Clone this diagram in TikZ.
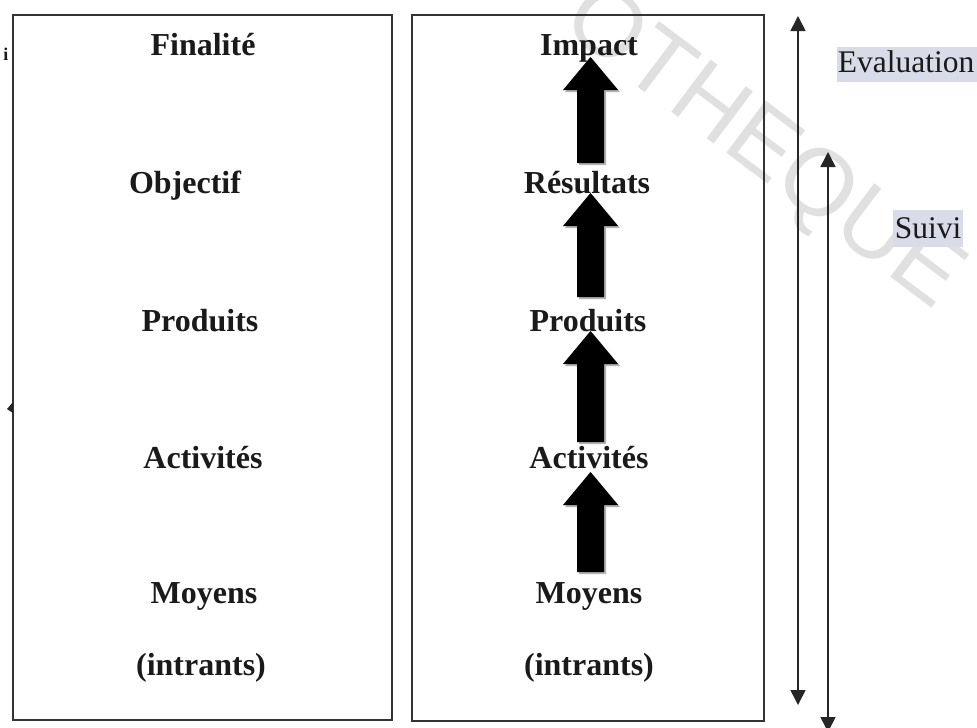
\documentclass[tikz,border=0pt]{standalone}
\usepackage{fontspec}
\setmainfont{Liberation Serif}
\newfontfamily\wmfont{Liberation Sans}
\usetikzlibrary{arrows.meta}
\definecolor{hl}{HTML}{D9DCE8}
\definecolor{ink}{HTML}{1A1A1A}
\newcommand{\blockarr}[3]{%
  \fill[black!30] (#1+2,#2+2) -- (#1+29.5,#2+35) -- (#1+15.5,#2+35) -- (#1+15.5,#3+2) -- (#1-11.5,#3+2) -- (#1-11.5,#2+35) -- (#1-25.5,#2+35) -- cycle;
  \fill[black] (#1,#2) -- (#1+27.5,#2+33) -- (#1+13.5,#2+33) -- (#1+13.5,#3) -- (#1-13.5,#3) -- (#1-13.5,#2+33) -- (#1-27.5,#2+33) -- cycle;
}
\begin{document}
\begin{tikzpicture}[x=1pt,y=-1pt,
  lbl/.style={font=\fontsize{32}{38}\selectfont\bfseries, text=ink, inner sep=0pt, anchor=base},
  side/.style={font=\fontsize{31.5}{38}\selectfont, text=ink, inner sep=0pt, anchor=base},
  frame/.style={draw=black!80, line width=1.6pt, inner sep=0pt},
  thinarr/.style={draw=black!85, line width=1.6pt, {Triangle[width=15pt,length=15pt]}-{Triangle[width=15pt,length=15pt]}}]
\useasboundingbox (0,0) rectangle (977,728);
\fill[white] (0,0) rectangle (977,728);
% watermark
\node[font=\wmfont\fontsize{95}{95}\selectfont, text=black!12, rotate=-37] (wm) at (762,150) {OTHEQUE};
% frames
\node[frame, minimum width=379pt, minimum height=705pt] (lbox) at (202.5,367.5) {};
\node[frame, minimum width=352pt, minimum height=706pt] (rbox) at (588,368) {};
% stray marks
\node[font=\fontsize{18}{18}\selectfont\bfseries, text=ink, anchor=base, inner sep=0pt] (stray) at (6,60) {i};
\fill[black!85] (7,409) -- (13,402) -- (13,413) -- cycle;
% left column
\node[lbl] (fin) at (203,55) {Finalité};
\node[lbl] (obj) at (185,193) {Objectif};
\node[lbl] (lprod) at (200,331) {Produits};
\node[lbl] (lact) at (203,468) {Activités};
\node[lbl] (lmoy) at (204,603) {Moyens};
\node[lbl] (lint) at (201,675) {(intrants)};
% right column
\node[lbl] (imp) at (589,55) {Impact};
\node[lbl] (res) at (587,193) {Résultats};
\node[lbl] (rprod) at (588,331) {Produits};
\node[lbl] (ract) at (589,468) {Activités};
\node[lbl] (rmoy) at (589,603) {Moyens};
\node[lbl] (rint) at (589,675) {(intrants)};
% block arrows
\blockarr{590.5}{57}{163}
\blockarr{590.5}{193}{297}
\blockarr{590.5}{331}{442}
\blockarr{590.5}{472}{572}
% side arrows
\coordinate (evtop) at (798,16);
\coordinate (evbot) at (798,705);
\coordinate (sutop) at (828,152);
\coordinate (subot) at (828,732);
\draw[thinarr] (evbot) -- (evtop);
\draw[thinarr] (subot) -- (sutop);
% side labels
\fill[hl] (837,47) rectangle (977,82);
\node[side] (eval) at (906,72) {Evaluation};
\fill[hl] (893,210) rectangle (963,247);
\node[side] (suivi) at (928,238) {Suivi};
\end{tikzpicture}
\end{document}
